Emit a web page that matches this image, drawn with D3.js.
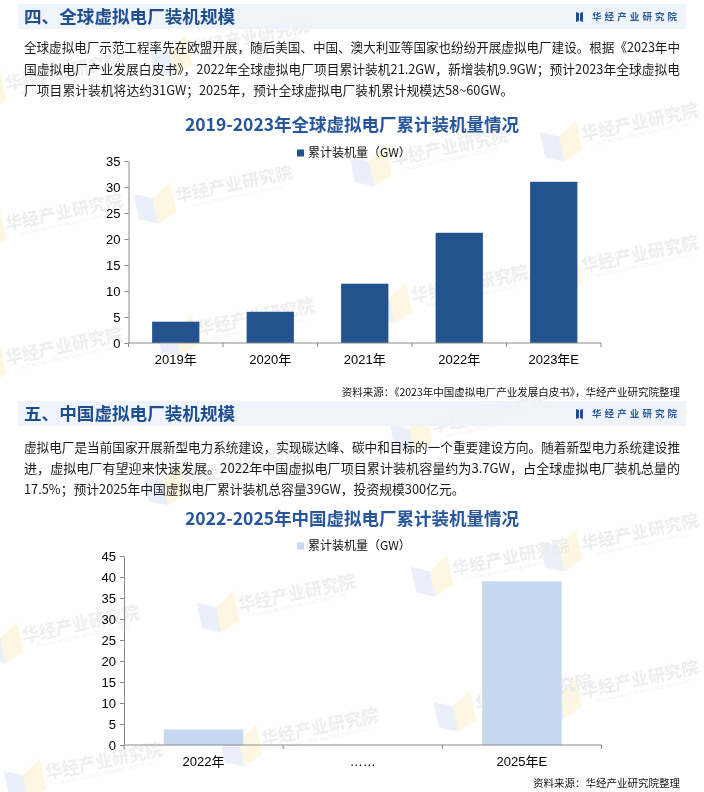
<!DOCTYPE html>
<html><head><meta charset="utf-8">
<script src="https://cdn.jsdelivr.net/npm/d3@7/dist/d3.min.js"></script>
<style>
html,body{margin:0;padding:0;background:#fff;}
svg{display:block;}
</style></head>
<body>
<svg id="c" width="704" height="792"></svg>
<script>
// ---------- data ----------
const header1 = "四、全球虚拟电厂装机规模";
const header2 = "五、中国虚拟电厂装机规模";
const logoText = "华经产业研究院";
const watermarkText = "华经产业研究院";
const watermarkSub = "HUAJING INDUSTRY RESEARCH INSTITUTE";
const para1 = [
  "全球虚拟电厂示范工程率先在欧盟开展，随后美国、中国、澳大利亚等国家也纷纷开展虚拟电厂建设。根据《2023年中",
  "国虚拟电厂产业发展白皮书》，2022年全球虚拟电厂项目累计装机21.2GW，新增装机9.9GW；预计2023年全球虚拟电",
  "厂项目累计装机将达约31GW；2025年，预计全球虚拟电厂装机累计规模达58~60GW。"
];
const para2 = [
  "虚拟电厂是当前国家开展新型电力系统建设，实现碳达峰、碳中和目标的一个重要建设方向。随着新型电力系统建设推",
  "进，虚拟电厂有望迎来快速发展。2022年中国虚拟电厂项目累计装机容量约为3.7GW，占全球虚拟电厂装机总量的",
  "17.5%；预计2025年中国虚拟电厂累计装机总容量39GW，投资规模300亿元。"
];
const title1 = "2019-2023年全球虚拟电厂累计装机量情况";
const title2 = "2022-2025年中国虚拟电厂累计装机量情况";
const seriesName = "累计装机量（GW）";
const categories1 = ["2019年", "2020年", "2021年", "2022年", "2023年E"];
const values1 = [4.1, 6.0, 11.4, 21.2, 31.0];
const yTicks1 = [0, 5, 10, 15, 20, 25, 30, 35];
const categories2 = ["2022年", "……", "2025年E"];
const values2 = [3.7, null, 39];
const yTicks2 = [0, 5, 10, 15, 20, 25, 30, 35, 40, 45];
const source1 = "资料来源：《2023年中国虚拟电厂产业发展白皮书》，华经产业研究院整理";
const source2 = "资料来源：华经产业研究院整理";
// watermark centres (decorative background stamps)
const watermarkX = [250, 64, 234, 450, 640, 64, 640, 470, 256, 64, 490, 244, 640, 511, 297, 81, 640, 534, 320, 104];
const watermarkY = [38, 73, 185, 148, 123, 213, 255, 285, 318, 347, 415, 467, 533, 558, 594, 625, 680, 693, 728, 762];

// ---------- drawing ----------
const svg = d3.select("#c");
const CJK = "'Noto Sans CJK SC','Noto Sans',sans-serif";
const NUM = "'Liberation Sans',Arial,'Noto Sans CJK SC',sans-serif";
const darkBlue = "#22538f";
const titleBlue = "#27569a";

// watermarks
const wm = svg.append("g").attr("opacity", 0.9);
watermarkX.forEach((cx, i) => {
  const g = wm.append("g").attr("transform", `translate(${cx},${watermarkY[i]}) rotate(-12)`);
  g.append("path").attr("d", "M-100,-12 L-82,-4 L-82,22 L-100,14 Z").attr("fill", "#e8eff9");
  g.append("path").attr("d", "M-82,-4 L-62,-16 L-62,14 L-82,22 Z").attr("fill", "#fdf6de");
  g.append("text").attr("x", 0).attr("y", 0).attr("dy", "0.3em").attr("text-anchor", "middle")
    .attr("font-family", CJK).attr("font-weight", 700).attr("font-size", 17)
    .attr("fill", "#ebebeb").text(watermarkText);
  g.append("text").attr("x", 0).attr("y", 13).attr("text-anchor", "middle")
    .attr("font-family", NUM).attr("font-size", 4.5)
    .attr("fill", "#efefef").text(watermarkSub);
});

function header(y0, txt) {
  const g = svg.append("g");
  g.append("rect").attr("x", 18).attr("y", y0).attr("width", 668).attr("height", 25).attr("fill", "#eef3fb").attr("fill-opacity", 0.93);
  g.append("text").attr("x", 24).attr("y", y0 + 12.5).attr("dy", "0.35em")
    .attr("font-family", CJK).attr("font-weight", 700).attr("font-size", 17.6)
    .attr("fill", "#1f4e8c").text(txt);
  const ix = 576, iy = y0 + 8;
  g.append("path").attr("d", `M${ix},${iy} L${ix+3},${iy+1} L${ix+3},${iy+9} L${ix},${iy+10} Z`).attr("fill", "#1f4e8c");
  g.append("path").attr("d", `M${ix+4},${iy+1} L${ix+7},${iy} L${ix+7},${iy+10} L${ix+4},${iy+9} Z`).attr("fill", "#1f4e8c");
  g.append("text").attr("x", 592).attr("y", y0 + 12.5).attr("dy", "0.35em")
    .attr("font-family", CJK).attr("font-weight", 700).attr("font-size", 9.5)
    .attr("letter-spacing", 3.1).attr("fill", "#2a5a9a").text(logoText);
}

function paragraph(lines, yFirst, lh) {
  lines.forEach((l, i) => {
    const t = svg.append("text").attr("x", 24).attr("y", yFirst + i * lh).attr("dy", "0.35em")
      .attr("font-family", CJK).attr("font-size", 12.8).attr("fill", "#1a1a1a").text(l);
    if (i < lines.length - 1) t.attr("textLength", 656).attr("lengthAdjust", "spacingAndGlyphs");
  });
}

function barChart(opt) {
  const g = svg.append("g");
  g.append("text").attr("x", 352).attr("y", opt.titleY).attr("dy", "0.35em").attr("text-anchor", "middle")
    .attr("font-family", CJK).attr("font-weight", 700).attr("font-size", 17.5).attr("fill", titleBlue).text(opt.title);
  g.append("rect").attr("x", 297).attr("y", opt.legendY - 3.5).attr("width", 7).attr("height", 7).attr("fill", opt.color);
  g.append("text").attr("x", 308).attr("y", opt.legendY).attr("dy", "0.35em")
    .attr("font-family", CJK).attr("font-size", 12).attr("fill", "#111").text(seriesName);

  const x = d3.scaleBand().domain(opt.cats).range([opt.x0, opt.x1]).padding(0);
  const y = d3.scaleLinear().domain([0, opt.ymax]).range([opt.yBottom, opt.yTop]);

  const data = opt.cats.map((c, i) => ({c, v: opt.vals[i]})).filter(d => d.v != null);
  g.selectAll("rect.bar").data(data).join("rect").attr("class", "bar")
    .attr("x", d => x(d.c) + x.bandwidth() * 0.25)
    .attr("width", x.bandwidth() * 0.5)
    .attr("y", d => y(d.v))
    .attr("height", d => y(0) - y(d.v))
    .attr("fill", opt.color);

  const ya = g.append("g").attr("transform", `translate(${opt.x0},0)`)
    .call(d3.axisLeft(y).tickValues(opt.yTicks).tickSize(4).tickSizeOuter(0).tickPadding(4));
  ya.select(".domain").attr("stroke", "#8a8a8a");
  ya.selectAll(".tick line").attr("stroke", "#8a8a8a");
  ya.selectAll(".tick text").attr("font-family", NUM).attr("font-size", 13).attr("fill", "#000");

  g.append("line").attr("x1", opt.x0).attr("x2", opt.x1).attr("y1", y(0)).attr("y2", y(0)).attr("stroke", "#8a8a8a");
  const bounds = opt.cats.map(c => x(c)).concat([x(opt.cats[opt.cats.length - 1]) + x.bandwidth()]);
  g.selectAll("line.xt").data(bounds).join("line").attr("class", "xt")
    .attr("x1", d => d).attr("x2", d => d).attr("y1", y(0)).attr("y2", y(0) + 4).attr("stroke", "#8a8a8a");
  g.selectAll("text.xl").data(opt.cats).join("text").attr("class", "xl")
    .attr("x", d => x(d) + x.bandwidth() / 2).attr("y", opt.catY).attr("dy", "0.35em").attr("text-anchor", "middle")
    .attr("font-family", NUM).attr("font-size", 13).attr("fill", "#000").text(d => d);

  g.append("text").attr("x", 680).attr("y", opt.sourceY).attr("dy", "0.35em").attr("text-anchor", "end")
    .attr("font-family", CJK).attr("font-size", 10.5).attr("fill", "#111").text(opt.source);
}

header(4, header1);
paragraph(para1, 48, 21.5);
barChart({
  title: title1, titleY: 125, legendY: 153, color: darkBlue,
  cats: categories1, vals: values1, yTicks: yTicks1, ymax: 35,
  x0: 128.5, x1: 601, yTop: 161, yBottom: 343, catY: 359,
  source: source1, sourceY: 392
});
header(401, header2);
paragraph(para2, 448, 21);
barChart({
  title: title2, titleY: 519, legendY: 546, color: "#c6d9f1",
  cats: categories2, vals: values2, yTicks: yTicks2, ymax: 45,
  x0: 124, x1: 601.5, yTop: 556, yBottom: 745, catY: 761,
  source: source2, sourceY: 783
});
</script>
</body></html>
